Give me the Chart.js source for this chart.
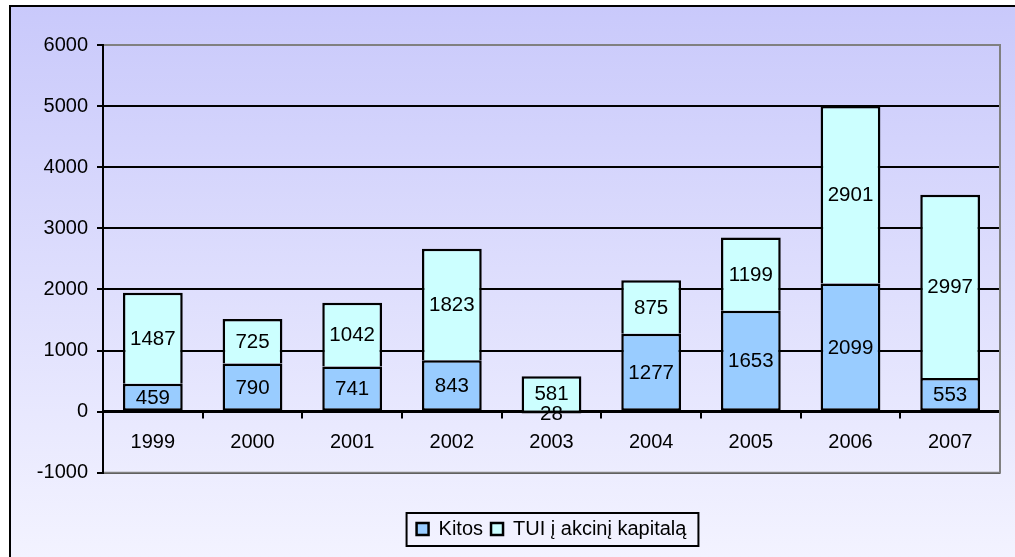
<!DOCTYPE html>
<html>
<head>
<meta charset="utf-8">
<script src="https://cdn.jsdelivr.net/npm/chart.js@4"></script>
<style>
  html, body { margin: 0; padding: 0; background: #fff; }
  #wrap { width: 1015px; height: 557px; position: relative; }
</style>
</head>
<body>
<div id="wrap"><canvas id="grafikas"></canvas></div>
<script>
const metai = ['1999', '2000', '2001', '2002', '2003', '2004', '2005', '2006', '2007'];
const kitos = [459, 790, 741, 843, -28, 1277, 1653, 2099, 553];
const tui = [1487, 725, 1042, 1823, 581, 875, 1199, 2901, 2997];
const yTicks = [-1000, 0, 1000, 2000, 3000, 4000, 5000, 6000];

const SRIFTAS = '"Liberation Sans", Arial, sans-serif';
Chart.defaults.font.family = SRIFTAS;
Chart.defaults.color = '#000';

// fonas su gradientu ir remelis
const fonas = {
  id: 'fonas',
  beforeDraw(chart) {
    const { ctx, width, height } = chart;
    ctx.save();
    ctx.fillStyle = '#fff';
    ctx.fillRect(0, 0, width, height);
    const g = ctx.createLinearGradient(0, 6, 0, height);
    g.addColorStop(0, '#c9c9fb');
    g.addColorStop(1, '#f3f3ff');
    ctx.fillStyle = g;
    ctx.fillRect(10, 6, width, height);
    ctx.strokeStyle = '#000';
    ctx.lineWidth = 2;
    ctx.beginPath();
    ctx.moveTo(10, height);
    ctx.lineTo(10, 6);
    ctx.lineTo(width, 6);
    ctx.stroke();
    ctx.restore();
  },
  beforeDatasetsDraw(chart) {
    const { ctx, chartArea: a } = chart;
    ctx.save();
    ctx.strokeStyle = '#808080';
    ctx.lineWidth = 2;
    ctx.beginPath();
    ctx.moveTo(a.left + 1, a.top);
    ctx.lineTo(a.right, a.top);
    ctx.lineTo(a.right, a.bottom);
    ctx.lineTo(a.left + 1, a.bottom);
    ctx.stroke();
    ctx.restore();
  }
};

// reiksmes stulpeliu viduje
const reiksmes = {
  id: 'reiksmes',
  afterDatasetsDraw(chart) {
    const ctx = chart.ctx;
    ctx.save();
    ctx.font = '20.5px ' + SRIFTAS;
    ctx.fillStyle = '#000';
    ctx.textAlign = 'center';
    ctx.textBaseline = 'middle';
    chart.data.datasets.forEach((ds, i) => {
      chart.getDatasetMeta(i).data.forEach((bar, j) => {
        const p = bar.getProps(['x', 'y', 'base'], true);
        ctx.fillText(String(Math.abs(ds.data[j])), p.x, (p.y + p.base) / 2 + 1);
      });
    });
    ctx.restore();
  }
};

// remelis aplink legenda
const legendosRemelis = {
  id: 'legendosRemelis',
  afterDraw(chart) {
    const boxes = chart.legend && chart.legend.legendHitBoxes;
    if (!boxes || !boxes.length) return;
    const first = boxes[0], last = boxes[boxes.length - 1];
    const x1 = first.left - 10;
    const x2 = last.left + last.width + 12;
    const y1 = first.top - 6;
    const y2 = first.top + first.height + 7;
    const ctx = chart.ctx;
    ctx.save();
    ctx.strokeStyle = '#000';
    ctx.lineWidth = 2;
    ctx.strokeRect(x1, y1, x2 - x1, y2 - y1);
    ctx.restore();
  }
};

new Chart(document.getElementById('grafikas'), {
  type: 'bar',
  data: {
    labels: metai,
    datasets: [
      {
        label: 'Kitos',
        data: kitos,
        backgroundColor: '#99ccff',
        borderColor: '#000',
        borderWidth: 2.5,
        borderSkipped: false,
        inflateAmount: 0,
        barPercentage: 0.6,
        categoryPercentage: 1
      },
      {
        label: 'TUI į akcinį kapitalą',
        data: tui,
        backgroundColor: '#ccffff',
        borderColor: '#000',
        borderWidth: 2.5,
        borderSkipped: 'start',
        inflateAmount: 0,
        barPercentage: 0.6,
        categoryPercentage: 1
      }
    ]
  },
  options: {
    responsive: true,
    maintainAspectRatio: false,
    animation: false,
    layout: { padding: { left: 10, top: 45, right: 15, bottom: 8 } },
    scales: {
      x: {
        stacked: true,
        position: { y: 0 },
        afterFit: s => { s.height = 0; },
        grid: {
          drawOnChartArea: false,
          offset: true,
          tickLength: 6,
          color: '#000',
          lineWidth: 2
        },
        border: { display: true, color: '#000', width: 2.5 },
        ticks: { font: { size: 20 }, padding: 13, color: '#000' }
      },
      y: {
        stacked: true,
        min: -1000,
        max: 6000,
        afterFit: s => { s.width = 93; },
        afterBuildTicks: s => { s.ticks = yTicks.map(v => ({ value: v })); },
        grid: { color: '#000', lineWidth: 2, tickLength: 6 },
        border: { display: true, color: '#000', width: 2 },
        ticks: { font: { size: 20 }, padding: 9, color: '#000', callback: v => String(v) }
      }
    },
    plugins: {
      tooltip: { enabled: false },
      legend: {
        position: 'bottom',
        fullSize: false,
        title: { display: true, text: '', font: { size: 1 }, padding: { top: 37, bottom: 0 } },
        labels: {
          boxWidth: 12,
          boxHeight: 12,
          padding: 8,
          color: '#000',
          font: { size: 20 }
        }
      }
    }
  },
  plugins: [fonas, reiksmes, legendosRemelis]
});
</script>
</body>
</html>
